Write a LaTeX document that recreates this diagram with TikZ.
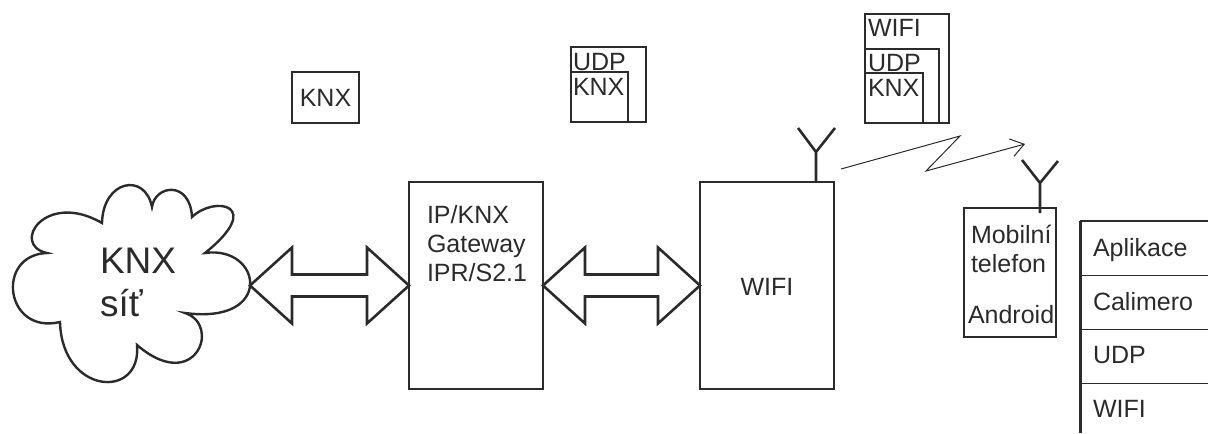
\documentclass[tikz,border=0pt]{standalone}
\usepackage{fontspec}
\setmainfont{Liberation Sans}
\usetikzlibrary{calc,arrows.meta}
\definecolor{ink}{HTML}{2B2B2B}
\begin{document}
\begin{tikzpicture}[x=0.5pt,y=-0.5pt,
  every node/.style={inner sep=0pt,outer sep=0pt,text=ink},
  box/.style={draw=ink,line width=1.3pt},
  heavy/.style={draw=ink,line width=1.3pt,line join=miter},
  hair/.style={draw=ink,line width=0.5pt},
  lbl/.style={font=\fontsize{12.5}{15}\selectfont,anchor=base west},
  clbl/.style={font=\fontsize{12.5}{15}\selectfont,anchor=base},
  big/.style={font=\fontsize{18.5}{22}\selectfont,anchor=base west}]
\useasboundingbox (0,0) rectangle (1208,433);

% cloud
\draw[draw=ink,line width=1.2pt] (102,223) .. controls (103,180) and (145,172) .. (152,207)
 .. controls (155,185) and (190,180) .. (192,217)
 .. controls (215,195) and (265,205) .. (205,253)
 .. controls (262,245) and (275,325) .. (185,313)
 .. controls (222,325) and (195,395) .. (137,345)
 .. controls (142,400) and (62,395) .. (60,322)
 .. controls (5,335) and (-5,255) .. (47,253)
 .. controls (10,245) and (45,190) .. (102,223) -- cycle;
\coordinate (ct) at (250,287);
\node[big] (c1) at (100,273) {KNX};
\node[big] (c2) at (100,316) {síť};

% main boxes
\node[box,minimum width=67pt,minimum height=103.5pt] (gw) at (476,285.5) {};
\node[lbl] (g1) at (427,223) {IP/KNX};
\node[lbl] (g2) at (427,252) {Gateway};
\node[lbl] (g3) at (427,281) {IPR/S2.1};
\node[box,minimum width=67pt,minimum height=103.5pt] (wifi) at (767,285.5) {};
\node[clbl] (wt) at (767,295) {WIFI};

% double arrows
\draw[heavy] (ct |- gw.west) -- ++(42,-38) -- ++(0,27) -- ($(gw.west)+(-42,-11)$) -- ++(0,-27)
  -- (gw.west) -- ++(-42,38) -- ++(0,-27) -- ($(ct |- gw.west)+(42,11)$) -- ++(0,27) -- cycle;
\draw[heavy] (gw.east) -- ++(42,-38) -- ++(0,27) -- ($(wifi.west)+(-42,-11)$) -- ++(0,-27)
  -- (wifi.west) -- ++(-42,38) -- ++(0,-27) -- ($(gw.east)+(42,11)$) -- ++(0,27) -- cycle;

% packets
\node[box,minimum width=33.5pt,minimum height=25.5pt,font=\fontsize{12.5}{15}\selectfont] (p1) at (325.5,97.5) {KNX};

\node[box,minimum width=37.5pt,minimum height=37.5pt] (p2o) at (608.5,84.5) {};
\node[box,minimum width=28.5pt,minimum height=25pt] (p2i) at (599.5,97) {};
\node[lbl] (p2u) at (573,71) {UDP};
\node[lbl] (p2k) at (573,96) {KNX};

\node[box,minimum width=42pt,minimum height=54.5pt] (p3o) at (907,68.5) {};
\node[box,minimum width=37pt,minimum height=37pt] (p3m) at (902,86) {};
\node[box,minimum width=29pt,minimum height=25pt] (p3i) at (894,98) {};
\node[lbl] (p3w) at (868,37) {WIFI};
\node[lbl] (p3u) at (868,72) {UDP};
\node[lbl] (p3k) at (868,97) {KNX};

% antenna on WIFI
\draw[heavy] ($(wifi.north east)+(-18,0)$) -- ++(0,-30) coordinate (a1t) ++(-18,-24) -- (a1t) -- ++(19,-24);

% radio link
\coordinate (zs) at (841,169);
\coordinate (ze) at (1025,144);
\draw[hair,-{Straight Barb[length=6.5pt,width=9pt]}] (zs) -- (960,136) -- (926,171) -- (ze);

% mobile
\node[box,minimum width=46pt,minimum height=64.5pt] (mob) at (1010,272.5) {};
\draw[heavy] ($(mob.north east)+(-16,5)$) -- ++(0,-30) coordinate (a2t) ++(-18,-23) -- (a2t) -- ++(18,-22);
\node[lbl] (m1) at (971,243) {Mobilní};
\node[lbl] (m2) at (971,272) {telefon};
\node[lbl] (m3) at (968,323) {Android};

% protocol stack
\coordinate (st) at (1080,221);
\draw[draw=ink,line width=1.5pt] (st) -- (1080,433);
\draw[draw=ink,line width=0.9pt] (st) -- (1208,221);
\draw[hair] (1080,275) -- (1208,275);
\draw[hair] (1080,329) -- (1208,329);
\draw[hair] (1080,383) -- (1208,383);
\node[lbl] (s1) at (1093,256) {Aplikace};
\node[lbl] (s2) at (1093,310) {Calimero};
\node[lbl] (s3) at (1093,363) {UDP};
\node[lbl] (s4) at (1093,417) {WIFI};
\end{tikzpicture}
\end{document}
